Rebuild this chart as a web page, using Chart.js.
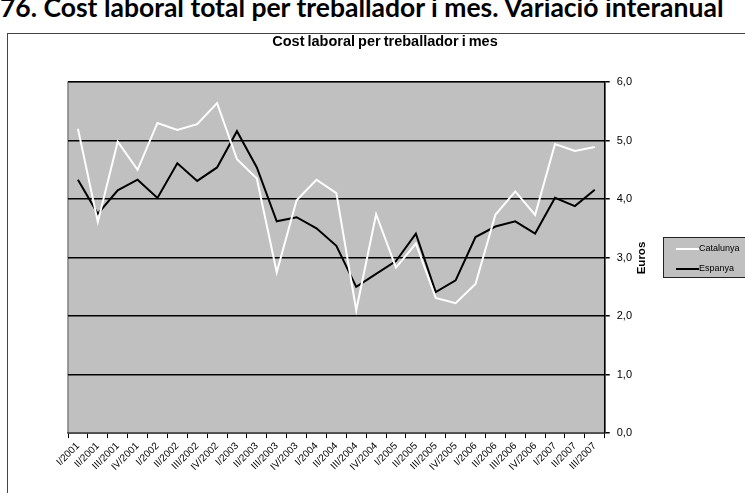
<!DOCTYPE html>
<html>
<head>
<meta charset="utf-8">
<script src="https://cdn.jsdelivr.net/npm/chart.js@4"></script>
<style>
  body { margin: 0; width: 745px; height: 493px; overflow: hidden; background: #fff; position: relative; font-family: "Liberation Sans", Arial, sans-serif; }
  #heading { position: absolute; left: 0; top: -9px; font: bold 26.5px Lato, "Liberation Sans", sans-serif; white-space: nowrap; color: #000; }
  #frame { position: absolute; left: 7px; top: 33px; width: 800px; height: 500px; border-left: 1.5px solid #444; border-top: 1.5px solid #444; }
  #chart { position: absolute; left: 0; top: 0; }
  #title { position: absolute; left: 385px; top: 41px; transform: translate(-50%, -50%); font: bold 14.5px "Liberation Sans", Arial, sans-serif; white-space: nowrap; word-spacing: -1px; }
  #ytitle { position: absolute; left: 641px; top: 258px; transform: translate(-50%, -50%) rotate(-90deg); font: bold 11.5px "Liberation Sans", Arial, sans-serif; white-space: nowrap; }
  #legend { position: absolute; left: 663px; top: 237px; width: 90px; height: 41px; background: #c0c0c0; border: 1px solid #222; box-sizing: border-box; }
  .item { position: absolute; left: 12px; font: 9px "Liberation Sans", Arial, sans-serif; }
  .item span.line { position: absolute; left: 0; top: 5px; width: 23px; height: 1.5px; }
  .item span.txt { position: absolute; left: 23px; top: 0; white-space: nowrap; }
</style>
</head>
<body>
<div id="heading">76. Cost laboral total per treballador i mes. Variació interanual</div>
<div id="frame"></div>
<canvas id="chart" width="745" height="493"></canvas>
<div id="title">Cost laboral per treballador i mes</div>
<div id="ytitle">Euros</div>
<div id="legend">
  <div class="item" style="top:5px"><span class="line" style="background:#fff"></span><span class="txt">Catalunya</span></div>
  <div class="item" style="top:25px"><span class="line" style="background:#000"></span><span class="txt">Espanya</span></div>
</div>
<script>
// trimestres
const quarters = [
  "I/2001", "II/2001", "III/2001", "IV/2001",
  "I/2002", "II/2002", "III/2002", "IV/2002",
  "I/2003", "II/2003", "III/2003", "IV/2003",
  "I/2004", "II/2004", "III/2004", "IV/2004",
  "I/2005", "II/2005", "III/2005", "IV/2005",
  "I/2006", "II/2006", "III/2006", "IV/2006",
  "I/2007", "II/2007", "III/2007"
];

// variacio interanual (%)
const catalunya = [5.20, 3.61, 4.98, 4.50, 5.30, 5.18, 5.28, 5.64, 4.68, 4.35, 2.75, 3.98, 4.33, 4.10,
                   2.10, 3.74, 2.83, 3.24, 2.31, 2.22, 2.55, 3.73, 4.13, 3.73, 4.94, 4.82, 4.89];
const espanya = [4.33, 3.75, 4.15, 4.33, 4.02, 4.61, 4.31, 4.54, 5.16, 4.54, 3.62, 3.69, 3.50, 3.20,
                 2.50, 2.72, 2.94, 3.41, 2.41, 2.61, 3.35, 3.53, 3.62, 3.41, 4.02, 3.88, 4.16];

const yMin = 0;
const yMax = 6;
const yStep = 1;

// fons gris de l'area del grafic
const plotBg = {
  id: 'plotBg',
  beforeDraw(chart) {
    const ctx = chart.ctx;
    const a = chart.chartArea;
    ctx.save();
    ctx.fillStyle = '#c0c0c0';
    ctx.fillRect(a.left, a.top, a.right - a.left, a.bottom - a.top);
    ctx.strokeStyle = '#808080';
    ctx.lineWidth = 1.5;
    ctx.strokeRect(a.left, a.top, a.right - a.left, a.bottom - a.top);
    ctx.restore();
  }
};

const data = {
  labels: quarters,
  datasets: [
    { label: "Catalunya", data: catalunya, borderColor: '#ffffff', borderWidth: 2, pointRadius: 0, tension: 0 },
    { label: "Espanya", data: espanya, borderColor: '#000000', borderWidth: 2, pointRadius: 0, tension: 0 }
  ]
};

const config = {
  type: 'line',
  data: data,
  options: {
    responsive: false,
    animation: false,
    layout: { padding: { left: 68, right: 106, top: 82, bottom: 18 } },
    plugins: {
      legend: { display: false },
      tooltip: { enabled: false }
    },
    scales: {
      x: {
        offset: true,
        grid: { offset: true, drawOnChartArea: false, color: '#000', tickLength: 5 },
        border: { color: '#555', width: 1.5 },
        ticks: {
          color: '#000',
          minRotation: 45, maxRotation: 45,
          autoSkip: false,
          padding: 2,
          font: { family: '"Liberation Sans", Arial, sans-serif', size: 10 }
        }
      },
      y: {
        position: 'right',
        min: yMin, max: yMax,
        grid: { color: '#000', lineWidth: 1.5, tickLength: 5 },
        border: { color: '#000', width: 1.5 },
        ticks: {
          stepSize: yStep,
          color: '#000',
          padding: 7,
          font: { family: '"Liberation Sans", Arial, sans-serif', size: 11 },
          callback: v => v.toFixed(1).replace('.', ',')
        }
      }
    }
  },
  plugins: [plotBg]
};

new Chart(document.getElementById("chart"), config);
</script>
</body>
</html>
